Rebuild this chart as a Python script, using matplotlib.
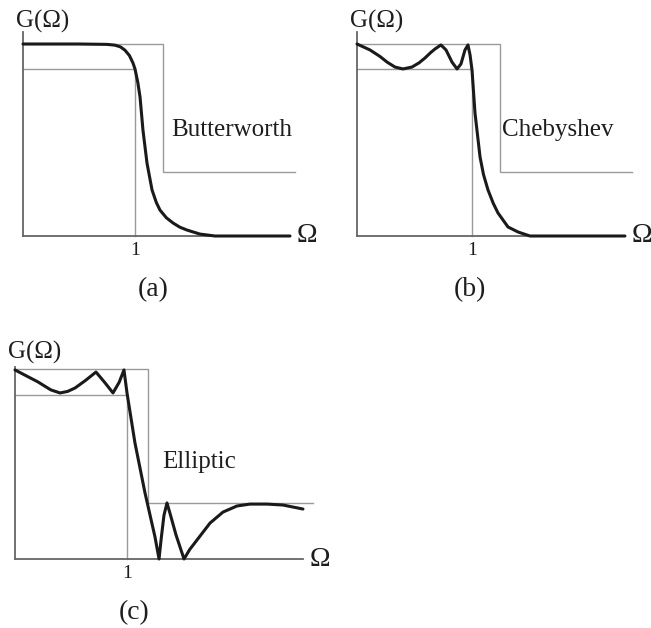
import matplotlib
matplotlib.use("Agg")
import matplotlib.pyplot as plt

W, H = 651, 628
DPI = 100

# ---- data (Omega normalised to passband edge = 1, gain G) ----
# Butterworth
bw_x = [0.0, 0.5, 0.75, 0.82, 0.87, 0.91, 0.95, 0.982, 1.0, 1.025, 1.045, 1.071, 1.107,
        1.152, 1.19, 1.223, 1.28, 1.339, 1.40, 1.464, 1.58, 1.714, 2.384]
bw_y = [1.0, 1.0, 0.998, 0.994, 0.985, 0.968, 0.94, 0.901, 0.870, 0.80, 0.724, 0.552, 0.380,
        0.240, 0.175, 0.135, 0.095, 0.068, 0.046, 0.031, 0.010, 0.0, 0.0]
bw_pass_lo, bw_pass_edge = 0.87, 1.25
bw_stop, bw_xmax = 0.333, 2.38
bw_stop_end = 2.43

# Chebyshev
ch_x = [0.0, 0.113, 0.200, 0.261, 0.330, 0.400, 0.478, 0.540, 0.591, 0.640, 0.678, 0.730,
        0.774, 0.826, 0.870, 0.904, 0.939, 0.965, 0.983, 1.0, 1.026, 1.070, 1.10, 1.139,
        1.185, 1.226, 1.313, 1.400, 1.504, 2.33]
ch_y = [1.0, 0.969, 0.935, 0.906, 0.880, 0.870, 0.880, 0.902, 0.927, 0.955, 0.974, 0.995,
        0.969, 0.906, 0.870, 0.896, 0.969, 0.995, 0.943, 0.865, 0.641, 0.411, 0.32, 0.240,
        0.17, 0.120, 0.047, 0.021, 0.0, 0.0]
ch_pass_lo, ch_pass_edge = 0.87, 1.243
ch_stop, ch_xmax = 0.333, 2.33
ch_stop_end = 2.39

# Elliptic
el_x = [0.0, 0.205, 0.32, 0.402, 0.47, 0.536, 0.63, 0.723, 0.80, 0.875, 0.93, 0.973, 1.0,
        1.071, 1.161, 1.25, 1.286, 1.304, 1.33, 1.357, 1.384, 1.438, 1.509, 1.56, 1.625,
        1.741, 1.857, 1.982, 2.098, 2.25, 2.393, 2.571]
el_y = [0.995, 0.932, 0.89, 0.874, 0.882, 0.900, 0.94, 0.984, 0.93, 0.874, 0.93, 0.995, 0.874,
        0.611, 0.347, 0.116, 0.0, 0.10, 0.23, 0.295, 0.24, 0.126, 0.0, 0.05, 0.10,
        0.189, 0.247, 0.279, 0.289, 0.289, 0.284, 0.263]
el_pass_lo, el_pass_edge = 0.863, 1.1875
el_stop, el_xmax = 0.295, 2.57
el_stop_end = 2.66

panels = [
    dict(name="Butterworth", tag="(a)", o=(23, 236), s=(112, 192), x=bw_x, y=bw_y,
         lo=bw_pass_lo, edge=bw_pass_edge, stop=bw_stop, xmax=bw_xmax, stop_end=bw_stop_end,
         ytop=1.06, name_dx=0.075, name_y=0.552, g_xy=(-0.06, 1.12), tag_x=1.16),
    dict(name="Chebyshev", tag="(b)", o=(357, 236), s=(115, 192), x=ch_x, y=ch_y,
         lo=ch_pass_lo, edge=ch_pass_edge, stop=ch_stop, xmax=ch_xmax, stop_end=ch_stop_end,
         ytop=1.06, name_dx=0.02, name_y=0.552, g_xy=(-0.06, 1.12), tag_x=0.98),
    dict(name="Elliptic", tag="(c)", o=(15, 559), s=(112, 190), x=el_x, y=el_y,
         lo=el_pass_lo, edge=el_pass_edge, stop=el_stop, xmax=el_xmax, stop_end=el_stop_end,
         ytop=1.01, name_dx=0.13, name_y=0.51, g_xy=(-0.06, 1.085), tag_x=1.06),
]

fig = plt.figure(figsize=(W / DPI, H / DPI), dpi=DPI)
fig.patch.set_facecolor("white")

XL = (-0.25, 2.95)
YL = (-0.38, 1.25)
serif = ["Liberation Serif", "DejaVu Serif"]
txt_c = "#1e1e1e"
spec_c = "#9a9a9a"
axis_c = "#666666"
curve_c = "#1a1a1a"

for p in panels:
    ox, oy = p["o"]
    sx, sy = p["s"]
    left = (ox + XL[0] * sx) / W
    width = (XL[1] - XL[0]) * sx / W
    bottom = (H - (oy - YL[0] * sy)) / H
    height = (YL[1] - YL[0]) * sy / H
    ax = fig.add_axes([left, bottom, width, height])
    ax.set_xlim(*XL)
    ax.set_ylim(*YL)
    ax.axis("off")
    ax.patch.set_alpha(0)

    # specification lines
    ax.plot([0, p["edge"], p["edge"], p["stop_end"]], [1.0, 1.0, p["stop"], p["stop"]],
            color=spec_c, lw=1.0, solid_joinstyle="miter")
    ax.plot([0, 1.0, 1.0], [p["lo"], p["lo"], 0], color=spec_c, lw=1.0,
            solid_joinstyle="miter")
    # axes
    ax.plot([0, 0], [0, p["ytop"]], color=axis_c, lw=1.3)
    ax.plot([0, p["xmax"]], [0, 0], color=axis_c, lw=1.3)
    # response curve
    ax.plot(p["x"], p["y"], color=curve_c, lw=2.2, solid_joinstyle="round",
            solid_capstyle="round")

    # texts
    gx, gy = p["g_xy"]
    ax.text(gx, gy, "G(Ω)", family=serif, fontsize=18, color=txt_c,
            ha="left", va="center")
    ax.text(p["xmax"] + 0.06, 0.0, "Ω", family=serif, fontsize=20, color=txt_c,
            ha="left", va="center")
    ax.text(1.0, -0.075, "1", family=serif, fontsize=14, color=txt_c,
            ha="center", va="center")
    ax.text(p["edge"] + p["name_dx"], p["name_y"], p["name"], family=serif,
            fontsize=18, color=txt_c, ha="left", va="center")
    ax.text(p["tag_x"], -0.28, p["tag"], family=serif, fontsize=20, color=txt_c,
            ha="center", va="center")

fig.savefig("out.png", dpi=DPI, facecolor="white")
